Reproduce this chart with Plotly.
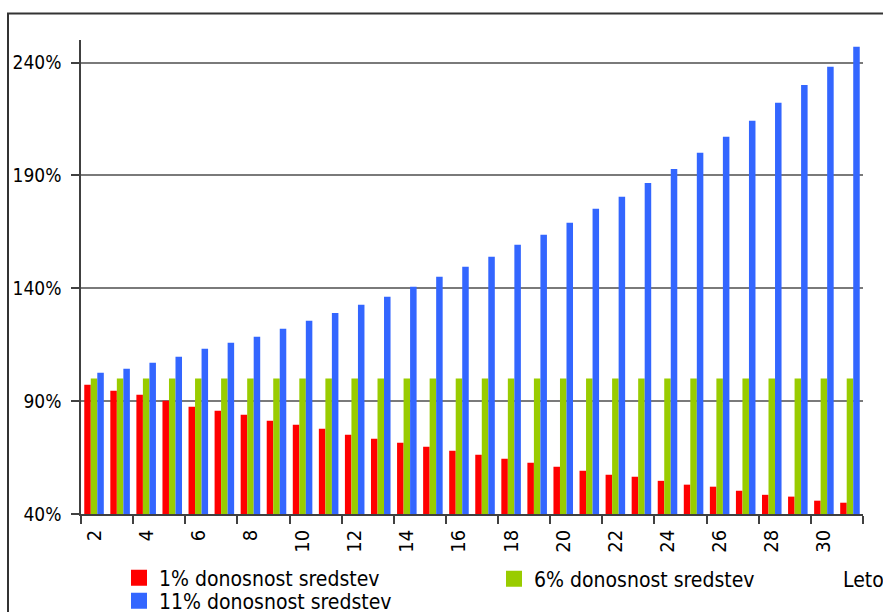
import plotly.graph_objects as go

# Years on the horizontal axis
years = list(range(2, 32))

# Relative value of assets (%) for three yields
red_1pct = [97.3, 94.6, 92.8, 90.2, 87.5, 85.7, 84.0, 81.3, 79.5, 77.8,
            75.1, 73.3, 71.6, 69.8, 68.0, 66.3, 64.5, 62.7, 60.9, 59.2,
            57.4, 56.5, 54.7, 53.0, 52.1, 50.3, 48.5, 47.7, 45.9, 45.0]
green_6pct = [100.0] * 30
blue_11pct = [102.6, 104.3, 107.0, 109.7, 113.2, 115.9, 118.5, 122.1, 125.6, 129.1,
              132.7, 136.2, 140.7, 145.1, 149.5, 154.0, 159.3, 163.7, 169.0, 175.2,
              180.5, 186.7, 192.9, 200.0, 207.1, 214.2, 222.2, 230.1, 238.1, 247.0]

series_names = ["1% donosnost sredstev", "6% donosnost sredstev", "11% donosnost sredstev"]
series_colors = ["#FF0000", "#99CC00", "#3366FF"]
legend_ids = ["legend", "legend2", "legend3"]

y_ticks = [40, 90, 140, 190, 240]
x_ticks = list(range(2, 31, 2))
x_bounds = [y - 0.5 for y in range(2, 33, 2)]

FONT = "DejaVu Sans Condensed, DejaVu Sans, sans-serif"

fig = go.Figure()
for name, vals, col in zip(series_names, [red_1pct, green_6pct, blue_11pct], series_colors):
    fig.add_trace(go.Bar(x=years, y=vals, name=name, marker_color=col,
                         marker_line_width=0, showlegend=False))

# Legend keys: large square swatches, one legend box per series
for name, col, leg in zip(series_names, series_colors, legend_ids):
    fig.add_trace(go.Scatter(x=[None], y=[None], name=name, mode="markers",
                             marker=dict(symbol="square", size=17, color=col),
                             legend=leg, hoverinfo="skip"))

W, H = 883, 612
L, R, T, B = 81, 20, 40, 98
pw, ph = W - L - R, H - T - B


def px_x(p):
    return (p - L) / pw


def px_y(p):
    return (H - B - p) / ph


def legend_box(x, y):
    return dict(orientation="v", x=px_x(x), y=px_y(y), xanchor="left", yanchor="top",
                font=dict(size=21), bgcolor="rgba(0,0,0,0)", itemsizing="trace")


fig.update_layout(
    width=W, height=H,
    margin=dict(l=L, r=R, t=T, b=B, autoexpand=False),
    paper_bgcolor="white", plot_bgcolor="white",
    barmode="group", bargap=0.25, bargroupgap=0,
    font=dict(family=FONT, color="black"),
    xaxis=dict(
        range=[1.5, 31.5], tickmode="array", tickvals=x_ticks,
        ticktext=[str(v) for v in x_ticks], tickangle=-90, ticks="",
        tickfont=dict(size=20), showgrid=False, zeroline=False,
        showline=True, linecolor="#404040", linewidth=1.5,
        ticklabelstandoff=6, automargin=False,
        minor=dict(tickmode="array", tickvals=x_bounds, ticks="outside",
                   ticklen=8, tickcolor="#404040", tickwidth=1.5, showgrid=False),
    ),
    yaxis=dict(
        range=[40, 250], tickmode="array", tickvals=y_ticks,
        ticktext=[f"{v}%" for v in y_ticks], ticks="outside", ticklen=8,
        tickcolor="#404040", tickwidth=1.5, tickfont=dict(size=19),
        showgrid=True, gridcolor="#7a7a7a", gridwidth=1.5, zeroline=False,
        showline=True, linecolor="#404040", linewidth=1.5, automargin=False,
        ticklabelstandoff=6,
    ),
    legend=legend_box(119, 557.5),
    legend2=legend_box(494, 558.5),
    legend3=legend_box(119, 580.5),
    showlegend=True,
    annotations=[dict(text="Leto", x=px_x(841), y=px_y(580), xref="paper", yref="paper",
                      xanchor="left", yanchor="middle", showarrow=False,
                      font=dict(size=21, family=FONT))],
    shapes=[dict(type="rect", xref="paper", yref="paper",
                 x0=px_x(8), y0=px_y(700), x1=px_x(1000), y1=px_y(13.5),
                 line=dict(color="#333333", width=2), layer="above")],
)

fig.write_html("out.html")
